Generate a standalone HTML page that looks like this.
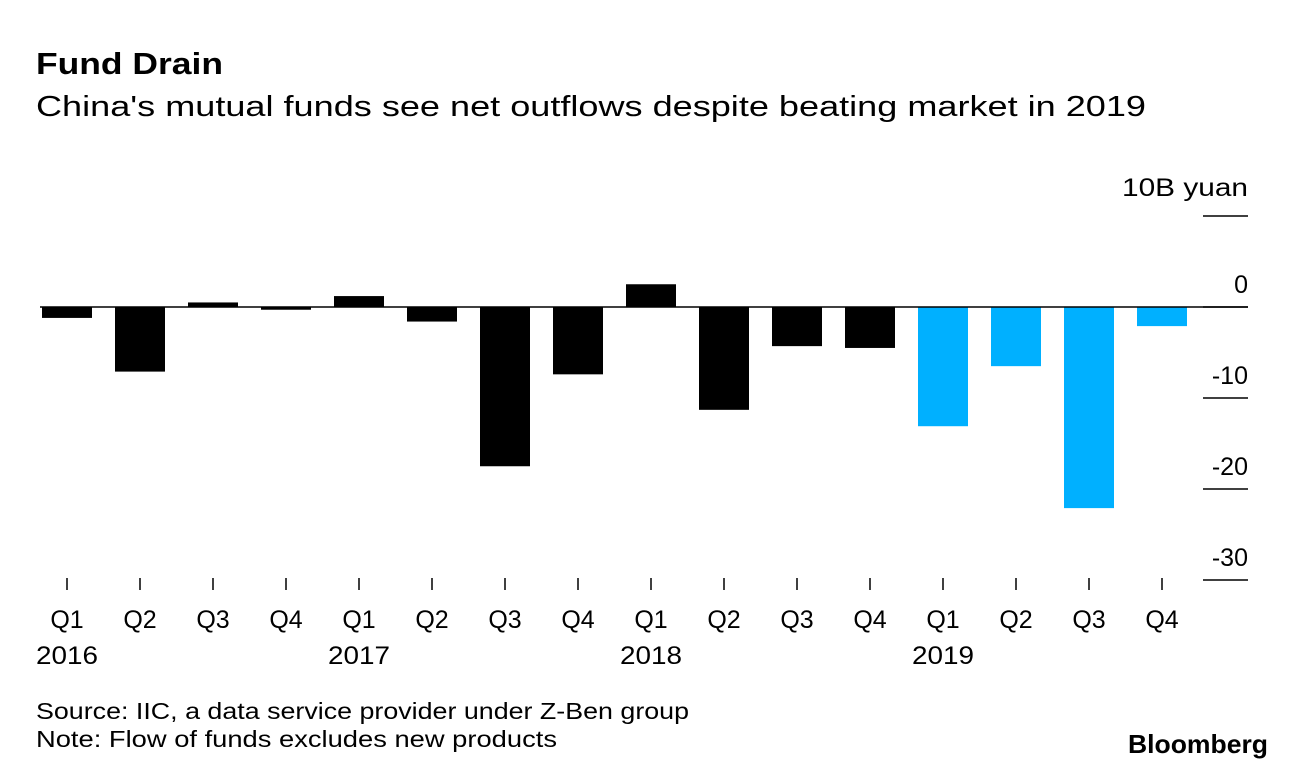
<!DOCTYPE html>
<html><head><meta charset="utf-8"><style>
body{margin:0;background:#fff;font-family:"Liberation Sans",sans-serif;}
svg text{font-family:"Liberation Sans",sans-serif;}
</style></head><body>
<svg width="1296" height="770">
<text x="36" y="74" font-size="31" font-weight="bold" fill="#000" textLength="187" lengthAdjust="spacingAndGlyphs">Fund Drain</text>
<text x="36" y="116" font-size="29" fill="#000" textLength="1110" lengthAdjust="spacingAndGlyphs">China's mutual funds see net outflows despite beating market in 2019</text>
<text x="1248" y="196" font-size="25" text-anchor="end" textLength="126" lengthAdjust="spacingAndGlyphs">10B yuan</text>
<g id="yaxis"></g>
<g id="bars"></g>
<g id="xaxis"></g>
<text x="36" y="719" font-size="23" textLength="653" lengthAdjust="spacingAndGlyphs">Source: IIC, a data service provider under Z-Ben group</text>
<text x="36" y="747" font-size="23" textLength="521" lengthAdjust="spacingAndGlyphs">Note: Flow of funds excludes new products</text>
<text x="1128" y="753" font-size="26" font-weight="bold" textLength="140" lengthAdjust="spacingAndGlyphs">Bloomberg</text>
</svg>
<script>
const quarters=["Q1","Q2","Q3","Q4","Q1","Q2","Q3","Q4","Q1","Q2","Q3","Q4","Q1","Q2","Q3","Q4"];
const years=["2016","","","","2017","","","","2018","","","","2019","","",""];
const values=[-1.2,-7.1,0.5,-0.3,1.2,-1.6,-17.5,-7.4,2.5,-11.3,-4.3,-4.5,-13.1,-6.5,-22.1,-2.1];
const highlight=[0,0,0,0,0,0,0,0,0,0,0,0,1,1,1,1];
const yTicks=[10,0,-10,-20,-30];
const NS="http://www.w3.org/2000/svg";
const y=v=>307-v*9.1;
const x=i=>67+i*73;
function mk(t,a,p){const e=document.createElementNS(NS,t);for(const k in a)e.setAttribute(k,a[k]);p.appendChild(e);return e;}
const ya=document.getElementById('yaxis'),ba=document.getElementById('bars'),xa=document.getElementById('xaxis');
yTicks.forEach(v=>{
  const l=mk('line',{x1:1203,x2:1248,y1:y(v),y2:y(v),stroke:'#000','stroke-width':1.5},ya);
  
  
  if(v!==10){const t=mk('text',{x:1248,y:y(v)-14,'font-size':25,'text-anchor':'end'},ya);t.textContent=v;
  
  }
});
values.forEach((v,i)=>{
  const r=mk('rect',{x:x(i)-25,width:50,y:Math.min(y(v),y(0)),height:Math.abs(y(v)-y(0)),fill:highlight[i]?'#00b0ff':'#000'},ba);
  
  
});
const z=mk('line',{x1:40,x2:1248,y1:y(0),y2:y(0),stroke:'#000','stroke-width':1.5},ba);


quarters.forEach((q,i)=>{
  const tk=mk('line',{x1:x(i),x2:x(i),y1:578,y2:590,stroke:'#000','stroke-width':1.5},xa);
  
  
  const t=mk('text',{x:x(i),y:628,'font-size':25,'text-anchor':'middle'},xa);t.textContent=q;
  
  
  if(years[i]){const yt=mk('text',{x:x(i),y:664,'font-size':25,'text-anchor':'middle',textLength:62,lengthAdjust:'spacingAndGlyphs'},xa);yt.textContent=years[i];
  
  }
});
</script>
</body></html>
